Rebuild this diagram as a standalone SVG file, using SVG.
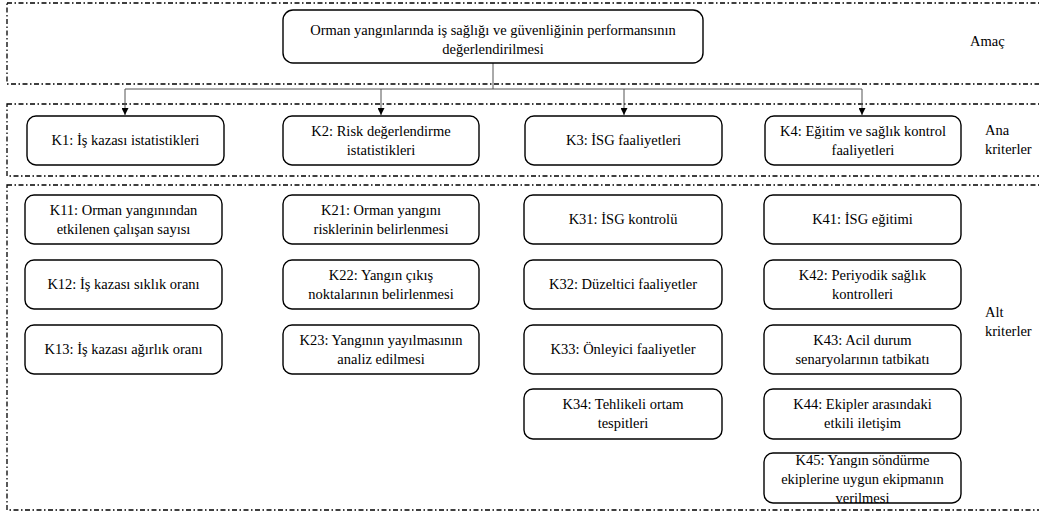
<svg xmlns="http://www.w3.org/2000/svg" width="1039" height="514" viewBox="0 0 1039 514">
<style>
.band{fill:none;stroke:#000;stroke-width:1.3;stroke-dasharray:5 2.5 1.5 2.5}
.box{fill:#fff;stroke:#000;stroke-width:1.4}
.conn{fill:none;stroke:#555;stroke-width:1}
</style>
<defs>
<marker id="arr" viewBox="0 0 10 10" refX="10" refY="5" markerWidth="7" markerHeight="7" orient="auto" markerUnits="userSpaceOnUse">
<path d="M0,0 L10,5 L0,10 z" fill="#000"/>
</marker>
</defs>
<rect width="1039" height="514" fill="#fff"/>
<g id="bands">
<rect class="band" x="7" y="3" width="1045" height="81"/>
<rect class="band" x="7" y="104" width="1045" height="72"/>
<rect class="band" x="7" y="185" width="1045" height="325"/>
</g>
<g id="labels" fill="#000">
<text font-family="Liberation Serif" font-size="14.5" x="970" y="46">Amaç</text>
<text font-family="Liberation Serif" font-size="14.5" x="985" y="135">Ana</text>
<text font-family="Liberation Serif" font-size="14.5" x="985" y="154">kriterler</text>
<text font-family="Liberation Serif" font-size="14.5" x="985" y="317">Alt</text>
<text font-family="Liberation Serif" font-size="14.5" x="985" y="336">kriterler</text>
</g>
<g id="connectors">
<path class="conn" d="M493,63 V89 M125,89 H862"/>
<path class="conn" d="M125,89 V115" marker-end="url(#arr)"/>
<path class="conn" d="M381,89 V115" marker-end="url(#arr)"/>
<path class="conn" d="M624,89 V115" marker-end="url(#arr)"/>
<path class="conn" d="M862,89 V115" marker-end="url(#arr)"/>
</g>
<g id="nodes" fill="#000" text-anchor="middle">
<g id="goal">
<rect class="box" x="283" y="10" width="420" height="53" rx="10"/>
<text font-family="Liberation Serif" font-size="14.5" x="493" y="35">Orman yangınlarında iş sağlığı ve güvenliğinin performansının</text>
<text font-family="Liberation Serif" font-size="14.5" x="493" y="54">değerlendirilmesi</text>
</g>
<g id="K1">
<rect class="box" x="27" y="116" width="197" height="49" rx="9"/>
<text font-family="Liberation Serif" font-size="14.5" x="125.5" y="145">K1: İş kazası istatistikleri</text>
</g>
<g id="K2">
<rect class="box" x="283" y="116" width="196" height="49" rx="9"/>
<text font-family="Liberation Serif" font-size="14.5" x="381" y="136">K2: Risk değerlendirme</text>
<text font-family="Liberation Serif" font-size="14.5" x="381" y="155">istatistikleri</text>
</g>
<g id="K3">
<rect class="box" x="525" y="116" width="197" height="49" rx="9"/>
<text font-family="Liberation Serif" font-size="14.5" x="623.5" y="145">K3: İSG faaliyetleri</text>
</g>
<g id="K4">
<rect class="box" x="765" y="116" width="196" height="49" rx="9"/>
<text font-family="Liberation Serif" font-size="14.5" x="863" y="136">K4: Eğitim ve sağlık kontrol</text>
<text font-family="Liberation Serif" font-size="14.5" x="863" y="155">faaliyetleri</text>
</g>
<g id="K11">
<rect class="box" x="25" y="195" width="197" height="49" rx="9"/>
<text font-family="Liberation Serif" font-size="14.5" x="123.5" y="215">K11: Orman yangınından</text>
<text font-family="Liberation Serif" font-size="14.5" x="123.5" y="234">etkilenen çalışan sayısı</text>
</g>
<g id="K12">
<rect class="box" x="25" y="260" width="197" height="49" rx="9"/>
<text font-family="Liberation Serif" font-size="14.5" x="123.5" y="289">K12: İş kazası sıklık oranı</text>
</g>
<g id="K13">
<rect class="box" x="25" y="325" width="197" height="49" rx="9"/>
<text font-family="Liberation Serif" font-size="14.5" x="123.5" y="354">K13: İş kazası ağırlık oranı</text>
</g>
<g id="K21">
<rect class="box" x="283" y="195" width="196" height="49" rx="9"/>
<text font-family="Liberation Serif" font-size="14.5" x="381" y="215">K21: Orman yangını</text>
<text font-family="Liberation Serif" font-size="14.5" x="381" y="234">risklerinin belirlenmesi</text>
</g>
<g id="K22">
<rect class="box" x="283" y="260" width="196" height="49" rx="9"/>
<text font-family="Liberation Serif" font-size="14.5" x="381" y="280">K22: Yangın çıkış</text>
<text font-family="Liberation Serif" font-size="14.5" x="381" y="299">noktalarının belirlenmesi</text>
</g>
<g id="K23">
<rect class="box" x="283" y="325" width="196" height="49" rx="9"/>
<text font-family="Liberation Serif" font-size="14.5" x="381" y="345">K23: Yangının yayılmasının</text>
<text font-family="Liberation Serif" font-size="14.5" x="381" y="364">analiz edilmesi</text>
</g>
<g id="K31">
<rect class="box" x="524" y="195" width="198" height="49" rx="9"/>
<text font-family="Liberation Serif" font-size="14.5" x="623" y="224">K31: İSG kontrolü</text>
</g>
<g id="K32">
<rect class="box" x="524" y="260" width="198" height="49" rx="9"/>
<text font-family="Liberation Serif" font-size="14.5" x="623" y="289">K32: Düzeltici faaliyetler</text>
</g>
<g id="K33">
<rect class="box" x="524" y="325" width="198" height="49" rx="9"/>
<text font-family="Liberation Serif" font-size="14.5" x="623" y="354">K33: Önleyici faaliyetler</text>
</g>
<g id="K34">
<rect class="box" x="524" y="389" width="198" height="50" rx="9"/>
<text font-family="Liberation Serif" font-size="14.5" x="623" y="409">K34: Tehlikeli ortam</text>
<text font-family="Liberation Serif" font-size="14.5" x="623" y="428">tespitleri</text>
</g>
<g id="K41">
<rect class="box" x="764" y="195" width="197" height="49" rx="9"/>
<text font-family="Liberation Serif" font-size="14.5" x="862.5" y="224">K41: İSG eğitimi</text>
</g>
<g id="K42">
<rect class="box" x="764" y="260" width="197" height="49" rx="9"/>
<text font-family="Liberation Serif" font-size="14.5" x="862.5" y="280">K42: Periyodik sağlık</text>
<text font-family="Liberation Serif" font-size="14.5" x="862.5" y="299">kontrolleri</text>
</g>
<g id="K43">
<rect class="box" x="764" y="325" width="197" height="49" rx="9"/>
<text font-family="Liberation Serif" font-size="14.5" x="862.5" y="345">K43: Acil durum</text>
<text font-family="Liberation Serif" font-size="14.5" x="862.5" y="364">senaryolarının tatbikatı</text>
</g>
<g id="K44">
<rect class="box" x="764" y="389" width="197" height="50" rx="9"/>
<text font-family="Liberation Serif" font-size="14.5" x="862.5" y="409">K44: Ekipler arasındaki</text>
<text font-family="Liberation Serif" font-size="14.5" x="862.5" y="428">etkili iletişim</text>
</g>
<g id="K45">
<rect class="box" x="764" y="453" width="197" height="50" rx="9"/>
<text font-family="Liberation Serif" font-size="14.5" x="862.5" y="465">K45: Yangın söndürme</text>
<text font-family="Liberation Serif" font-size="14.5" x="862.5" y="484">ekiplerine uygun ekipmanın</text>
<text font-family="Liberation Serif" font-size="14.5" x="862.5" y="503">verilmesi</text>
</g>
</g>
</svg>
